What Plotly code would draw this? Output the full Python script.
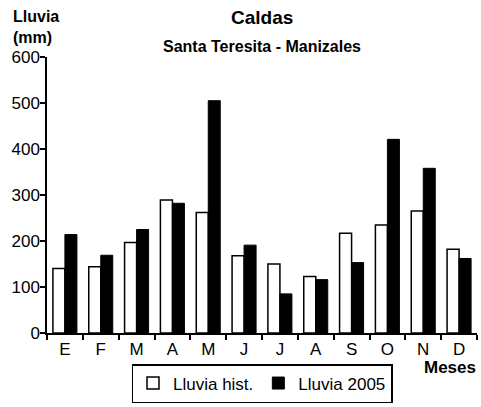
import plotly.graph_objects as go

months = ["E", "F", "M", "A", "M ", "J", "J ", "A ", "S", "O", "N", "D"]
month_labels = ["E", "F", "M", "A", "M", "J", "J", "A", "S", "O", "N", "D"]
lluvia_hist = [140, 144, 197, 289, 262, 168, 150, 123, 217, 235, 265, 182]
lluvia_2005 = [214, 169, 225, 282, 505, 191, 85, 116, 153, 421, 358, 162]
y_ticks = [0, 100, 200, 300, 400, 500, 600]

FONT = "Liberation Sans, Arial, sans-serif"

# plot-area pixel box
L, R, T, B = 47, 477, 57, 333
W, H = 481, 407


def px_x(x):
    return (x - L) / (R - L)


def px_y(y):
    return (B - y) / (B - T)


fig = go.Figure()
fig.add_trace(go.Bar(
    x=months, y=lluvia_hist, name="Lluvia hist.",
    marker=dict(color="white", line=dict(color="black", width=1.5)),
))
fig.add_trace(go.Bar(
    x=months, y=lluvia_2005, name="Lluvia 2005",
    marker=dict(color="black", line=dict(color="black", width=1)),
))

fig.update_layout(
    template="none",
    width=W, height=H,
    margin=dict(l=L, r=W - R, t=T, b=H - B, pad=0),
    paper_bgcolor="white", plot_bgcolor="white",
    barmode="group", bargap=0.33, bargroupgap=0,
    font=dict(family=FONT, color="black", size=17),
    showlegend=True,
    legend=dict(
        orientation="h", x=px_x(262), xanchor="center", y=px_y(403), yanchor="bottom",
        bordercolor="black", borderwidth=1.5, font=dict(size=17),
        itemwidth=30, tracegroupgap=0, bgcolor="white",
    ),
    xaxis=dict(
        type="category", tickmode="array", tickvals=months, ticktext=month_labels,
        showline=True, linecolor="black", linewidth=1.5,
        ticks="outside", tickson="boundaries", ticklen=5, tickwidth=1.5, tickcolor="black",
        showgrid=False, zeroline=False, tickfont=dict(size=17), automargin=False,
    ),
    yaxis=dict(
        range=[0, 600], tickvals=y_ticks,
        showline=True, linecolor="black", linewidth=1.5,
        ticks="outside", ticklen=5, tickwidth=1.5, tickcolor="black",
        showgrid=False, zeroline=False, tickfont=dict(size=17), automargin=False,
        ticklabelstandoff=-3,
    ),
    annotations=[
        dict(text="<b>Caldas</b>", x=px_x(262), y=px_y(17), xref="paper", yref="paper",
             xanchor="center", yanchor="middle", showarrow=False, font=dict(size=19)),
        dict(text="<b>Santa Teresita - Manizales</b>", x=px_x(262), y=px_y(46),
             xref="paper", yref="paper", xanchor="center", yanchor="middle",
             showarrow=False, font=dict(size=16)),
        dict(text="<b>Lluvia<br>(mm)</b>", x=px_x(11), y=px_y(27), xref="paper", yref="paper",
             showarrow=False, align="left", xanchor="left", yanchor="middle",
             font=dict(size=16)),
        dict(text="<b>Meses</b>", x=px_x(478), y=px_y(367), xref="paper", yref="paper",
             showarrow=False, xanchor="right", yanchor="middle", font=dict(size=17)),
    ],
)

fig.write_html(
    "out.html",
    config={"displayModeBar": False},
    post_script="document.body.style.margin='0';document.body.style.overflow='hidden';",
)
